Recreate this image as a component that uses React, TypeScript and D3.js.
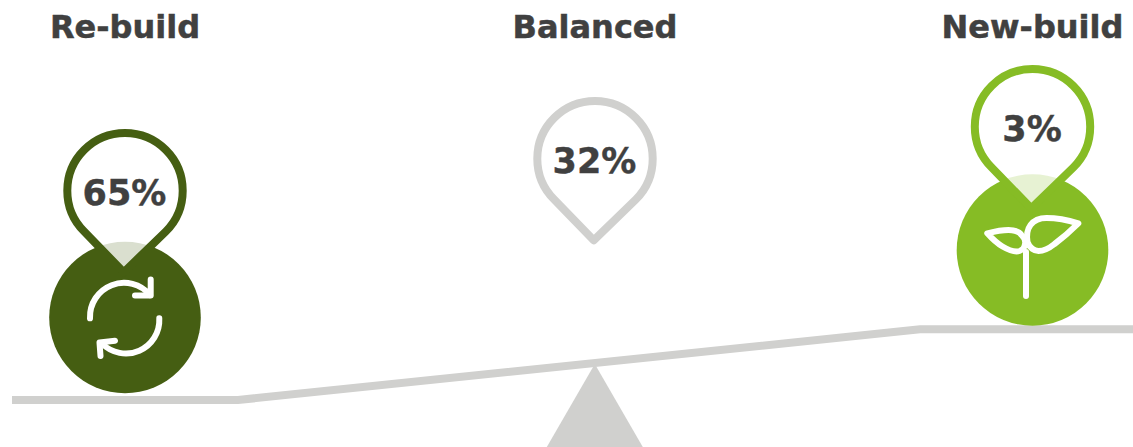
import React from "react";
import * as d3 from "d3";

const categories = ["Re-build", "Balanced", "New-build"];
const shares = [65, 32, 3];
const tierLevels = [0, 1, 2];
const pinColors = ["#455e12", "#d0d0ce", "#86bc25"];
const beamStops = [0, 226, 908, 1121];
const beamLift = [0, 0, 1, 1];

const W = 1133;
const H = 447;
const INK = "#404040";
const GREY = "#d0d0ce";

const xCat = d3.scaleOrdinal<string, number>().domain(categories).range([125, 595, 1032.5]);
const pinY = d3.scaleLinear().domain([0, 2]).range([190.7, 126.7]);
const discY = d3.scaleLinear().domain([0, 2]).range([317.5, 250]);
const beamX = d3.scaleLinear().domain([0, 1121]).range([12, 1133]);
const beamY = d3.scaleLinear().domain([0, 1]).range([400, 329.3]);
const beamLine = d3.line<number>()
  .x((d) => beamX(d))
  .y((_, i) => beamY(beamLift[i]))
  .curve(d3.curveLinear);
const triangle = d3.line<[number, number]>();

const R = 57.7;
const K = R * Math.SQRT1_2;
const pinPath = `M-1.3,${2 * K} L${-K},${K} A${R},${R} 0 1 1 ${K},${K} Z`;

function RefreshIcon() {
  return (
    <g fill="none" stroke="#fff" strokeWidth={6} strokeLinecap="round" strokeLinejoin="round">
      <path d="M-35,0.8 A34,34 0 0 1 25,-22.5" />
      <path d="M25.7,-38 V-22 H10" />
      <path d="M34.3,0.8 A33.5,33.5 0 0 1 -23,26" />
      <path d="M-10,23.2 L-25.5,25 L-24.5,38.5" />
    </g>
  );
}

function SproutIcon() {
  return (
    <g fill="none" stroke="#fff" strokeWidth={6} strokeLinecap="round" strokeLinejoin="round">
      <path d="M-6.5,46 V2" />
      <path d="M45.8,-26.7 C35,-30 22,-32 14,-32 C6,-32 1,-29 -2,-25 C-5,-21 -6,-14 -5,-8 C-3,-2 2,1 6,1 C12,1 17,-2 22,-6 C30,-12 39,-20 45.8,-26.7 Z" />
      <path d="M-45.2,-16.7 C-38,-18.5 -30,-20 -24,-20 C-18,-20 -13,-18 -11,-15 C-8,-12 -7,-8 -7.5,-6 C-8,-2 -10,0 -13,1 C-18,2.5 -24,0 -30,-3.5 C-36,-7 -41,-12 -45.2,-16.7 Z" />
    </g>
  );
}

export default function App() {
  return (
    <svg width={W} height={H} viewBox={`0 0 ${W} ${H}`} style={{ position: "absolute", left: 0, top: 0, background: "#fff" }}
      fontFamily="'DejaVu Sans', sans-serif" fontWeight="bold">
      <path d={triangle([[594.8, 364], [642.8, 447], [546.8, 447]]) ?? ""} fill={GREY} />
      <path d={beamLine(beamStops) ?? ""} fill="none" stroke={GREY} strokeWidth={8} />
      {categories.map((c, i) => {
        const x = xCat(c);
        const y = pinY(tierLevels[i]);
        const hasDisc = i !== 1;
        const dy = discY(tierLevels[i]);
        return (
          <g key={c}>
            <text x={x} y={38} textAnchor="middle" fontSize={32} fill={INK} stroke={INK} strokeWidth={0.5}>{c}</text>
            {hasDisc && <circle cx={x} cy={dy} r={75.8} fill={pinColors[i]} />}
            {hasDisc && (
              <g transform={`translate(${x},${dy})`}>
                {i === 0 ? <RefreshIcon /> : <SproutIcon />}
              </g>
            )}
            <path transform={`translate(${x},${y})`} d={pinPath} fill="#fff" fillOpacity={0.8}
              stroke={pinColors[i]} strokeWidth={8} strokeLinejoin="round" />
            <text x={x - 0.5} y={y + 14.5} textAnchor="middle" fontSize={35} fill={INK} stroke={INK} strokeWidth={0.4}>{shares[i]}%</text>
          </g>
        );
      })}
    </svg>
  );
}
